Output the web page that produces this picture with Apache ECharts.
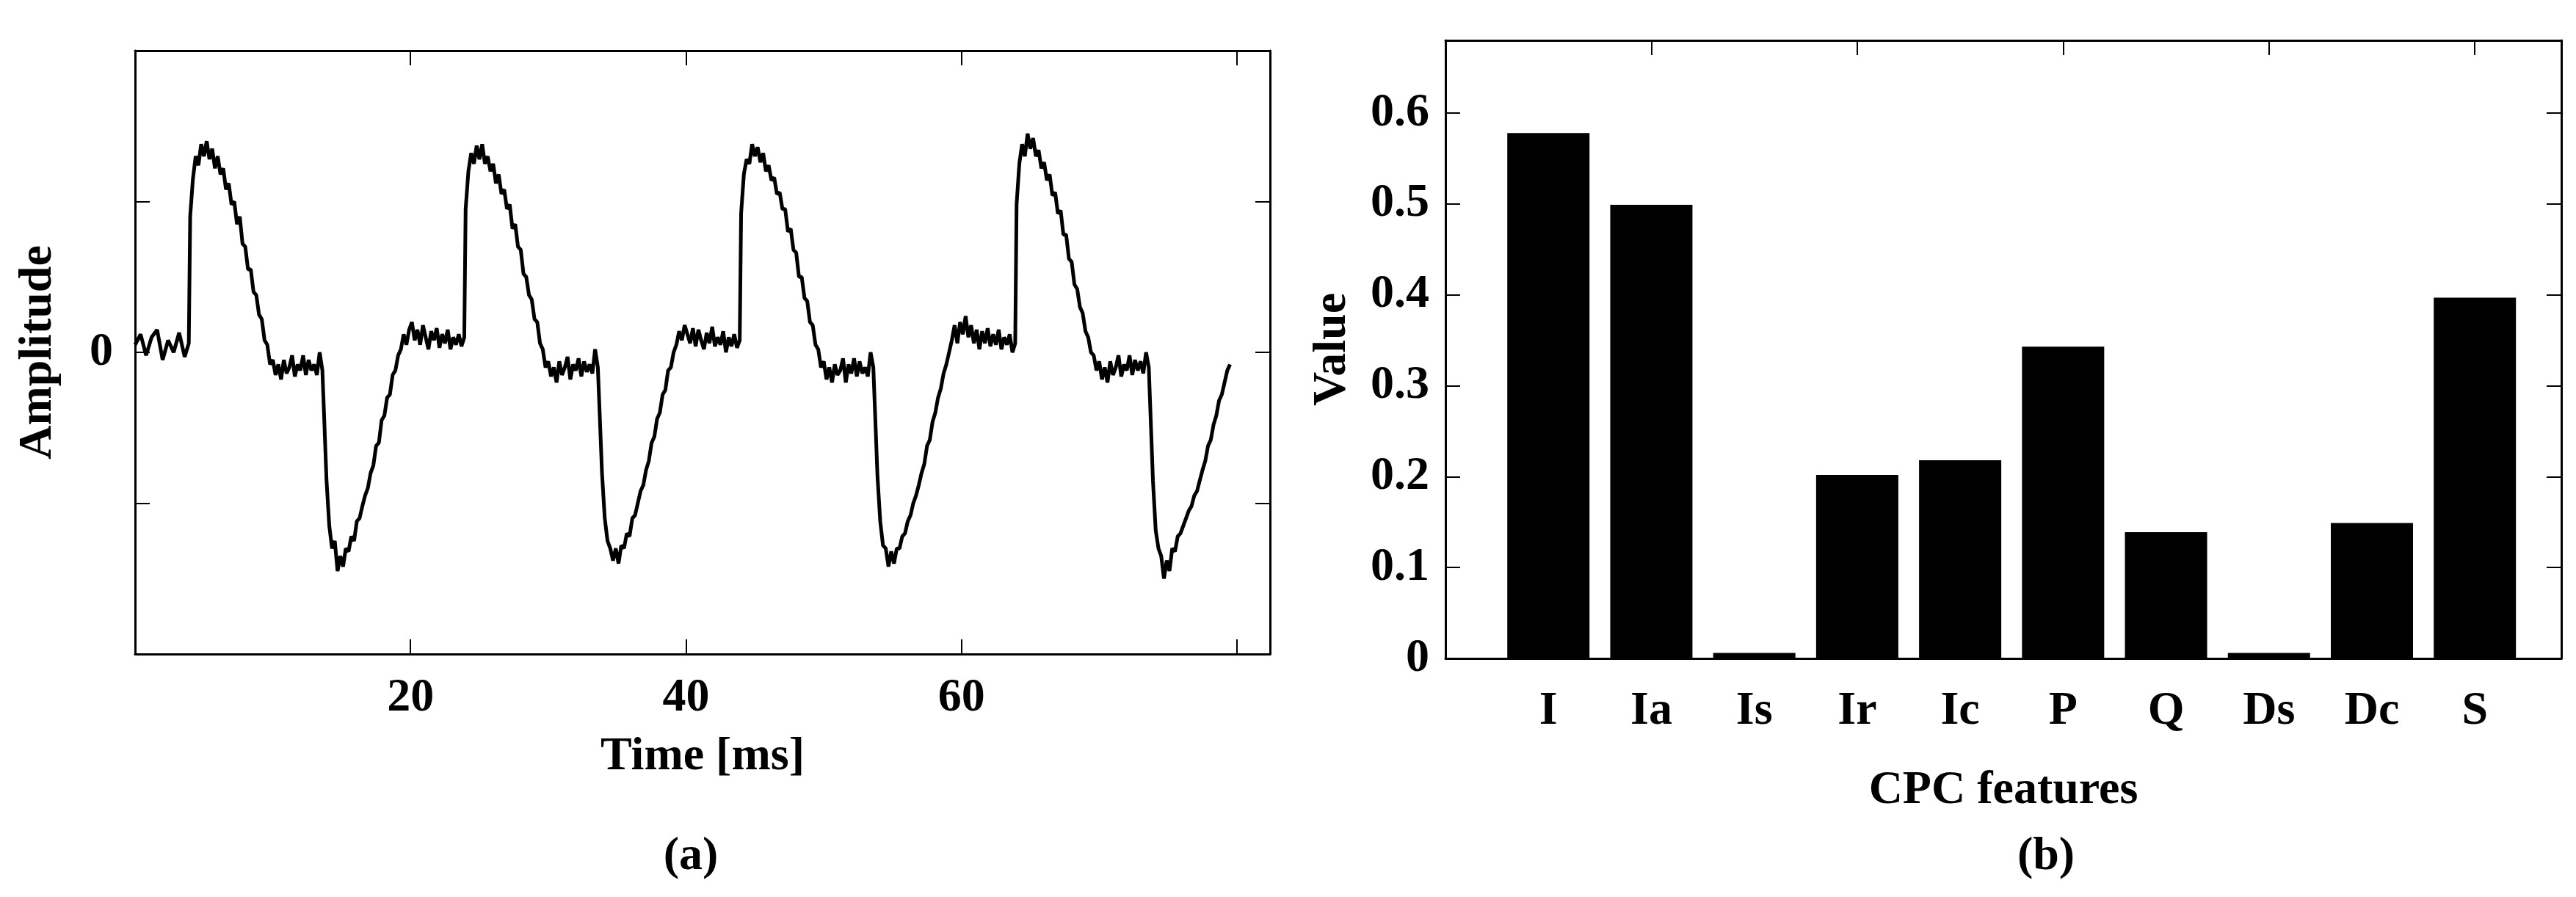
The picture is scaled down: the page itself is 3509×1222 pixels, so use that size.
<!DOCTYPE html>
<html>
<head>
<meta charset="utf-8">
<script src="https://cdn.jsdelivr.net/npm/echarts@6/dist/echarts.min.js"></script>
<style>html,body{margin:0;padding:0;background:#fff}#main{width:3509px;height:1222px}</style>
</head>
<body>
<div id="main"></div>
<script>
// panel (a): waveform
var preTimes = [0, 0.4, 0.8, 1.2, 1.6, 2.0, 2.4, 2.8, 3.2, 3.6, 3.9];
var preAmps  = [0.05, 0.12, -0.02, 0.1, 0.15, -0.05, 0.08, 0.0, 0.13, -0.03, 0.06];
// phase (ms after the step up) shared by the four cycles
var phase = [0.1, 0.3, 0.5, 0.7, 0.9, 1.1, 1.3, 1.5, 1.7, 1.9, 2.1, 2.3, 2.5, 2.7, 2.9, 3.1, 3.3, 3.5, 3.7, 3.9,
             4.1, 4.3, 4.5, 4.7, 4.9, 5.1, 5.3, 5.5, 5.7, 5.9, 6.1, 6.3, 6.5, 6.7, 6.9, 7.1, 7.3, 7.5, 7.7, 7.9, 8.1, 8.3, 8.5, 8.7, 8.9, 9.1, 9.3, 9.5, 9.7, 10.0,
             10.2, 10.4, 10.6, 10.8, 11.0, 11.2, 11.4, 11.6, 11.8, 12.0, 12.2, 12.4, 12.6, 12.8, 13.0, 13.2, 13.4, 13.6, 13.8, 14.0, 14.2, 14.4, 14.6, 14.8, 15.0,
             15.2, 15.4, 15.6, 15.8, 16.0, 16.2, 16.4, 16.6, 16.8, 17.0, 17.2, 17.4, 17.6, 17.8, 18.0, 18.2, 18.4, 18.6, 18.8, 19.0, 19.2, 19.4, 19.6, 19.8, 20.0];
var cycleStarts = [3.9, 23.9, 43.9, 63.9];
var cycle1 = [0.9, 1.15, 1.3, 1.24, 1.38, 1.3, 1.4, 1.28, 1.35, 1.22, 1.3, 1.18, 1.22, 1.08, 1.12, 0.98, 1.0, 0.85, 0.9, 0.72,
              0.7, 0.55, 0.55, 0.4, 0.38, 0.25, 0.22, 0.08, 0.05, -0.08, -0.05, -0.15, -0.08, -0.18, -0.05, -0.14, -0.1, -0.02, -0.16, -0.08, -0.12, -0.02, -0.15, -0.05, -0.12, -0.08, -0.15, 0.0, -0.12, -0.85,
              -1.15, -1.3, -1.25, -1.45, -1.35, -1.42, -1.3, -1.32, -1.22, -1.25, -1.12, -1.1, -1.02, -0.95, -0.9, -0.8, -0.75, -0.62, -0.6, -0.45, -0.42, -0.3, -0.28, -0.15, -0.12,
              -0.02, 0.02, 0.12, 0.05, 0.15, 0.2, 0.08, 0.15, 0.05, 0.18, 0.1, 0.02, 0.14, 0.08, 0.16, 0.03, 0.12, 0.06, 0.15, 0.02, 0.1, 0.05, 0.12, 0.04, 0.1];
var cycle2 = [0.95, 1.2, 1.32, 1.25, 1.37, 1.28, 1.38, 1.25, 1.3, 1.2, 1.25, 1.12, 1.18, 1.05, 1.08, 0.95, 0.98, 0.82, 0.85, 0.7,
              0.68, 0.52, 0.5, 0.38, 0.35, 0.22, 0.2, 0.06, 0.02, -0.1, -0.06, -0.16, -0.1, -0.2, -0.06, -0.15, -0.1, -0.03, -0.18, -0.08, -0.12, -0.04, -0.16, -0.06, -0.13, -0.08, -0.14, 0.02, -0.1, -0.8,
              -1.1, -1.25, -1.3, -1.38, -1.3, -1.4, -1.28, -1.3, -1.2, -1.22, -1.1, -1.08, -1.0, -0.92, -0.88, -0.78, -0.72, -0.6, -0.56, -0.44, -0.4, -0.28, -0.25, -0.12, -0.1,
              0.0, 0.05, 0.14, 0.08, 0.18, 0.12, 0.06, 0.16, 0.04, 0.15, 0.08, 0.02, 0.13, 0.06, 0.17, 0.04, 0.1, 0.05, 0.14, 0.0, 0.1, 0.04, 0.12, 0.03, 0.08];
var cycle3 = [0.92, 1.18, 1.28, 1.25, 1.38, 1.3, 1.36, 1.26, 1.32, 1.2, 1.24, 1.14, 1.16, 1.05, 1.06, 0.95, 0.95, 0.8, 0.82, 0.68,
              0.66, 0.5, 0.5, 0.36, 0.34, 0.2, 0.18, 0.05, 0.02, -0.1, -0.06, -0.18, -0.1, -0.2, -0.08, -0.15, -0.12, -0.04, -0.2, -0.08, -0.14, -0.04, -0.16, -0.06, -0.14, -0.1, -0.16, 0.0, -0.1, -0.82,
              -1.12, -1.28, -1.3, -1.42, -1.32, -1.4, -1.3, -1.3, -1.22, -1.2, -1.12, -1.08, -1.0, -0.95, -0.88, -0.8, -0.74, -0.62, -0.58, -0.46, -0.4, -0.3, -0.24, -0.14, -0.08,
              0.0, 0.08, 0.18, 0.06, 0.2, 0.12, 0.24, 0.1, 0.18, 0.06, 0.15, 0.02, 0.14, 0.06, 0.16, 0.04, 0.12, 0.05, 0.15, 0.02, 0.1, 0.05, 0.12, 0.0, 0.06];
var cycle4 = [0.98, 1.25, 1.38, 1.3, 1.45, 1.35, 1.42, 1.3, 1.34, 1.22, 1.26, 1.14, 1.18, 1.04, 1.06, 0.92, 0.94, 0.78, 0.78, 0.62,
              0.6, 0.45, 0.42, 0.3, 0.26, 0.14, 0.1, 0.0, -0.02, -0.12, -0.06, -0.18, -0.1, -0.2, -0.06, -0.15, -0.1, -0.02, -0.16, -0.08, -0.12, -0.02, -0.15, -0.05, -0.12, -0.06, -0.14, 0.0, -0.1, -0.85,
              -1.18, -1.3, -1.35, -1.5, -1.38, -1.45, -1.3, -1.32, -1.22, -1.2, -1.15, -1.1, -1.05, -1.02, -0.95, -0.92, -0.85, -0.78, -0.72, -0.62, -0.58, -0.48, -0.42, -0.32, -0.28,
              -0.2, -0.12, -0.08];
var timeTicks = [20, 40, 60];

// panel (b): CPC features
var features = ['I', 'Ia', 'Is', 'Ir', 'Ic', 'P', 'Q', 'Ds', 'Dc', 'S'];
var featureValues = [0.578, 0.499, 0.006, 0.202, 0.218, 0.343, 0.139, 0.006, 0.149, 0.397];

var cycles = [cycle1, cycle2, cycle3, cycle4];
var wave = [];
for (var i = 0; i < preTimes.length; i++) wave.push([preTimes[i], preAmps[i]]);
for (var c = 0; c < cycles.length; c++) {
    for (var j = 0; j < cycles[c].length; j++) {
        var t = cycleStarts[c] + phase[j];
        if (t <= 80.05) wave.push([t, cycles[c][j]]);
    }
}
var bars = [];
for (var k = 0; k < features.length; k++) bars.push([k + 1, featureValues[k]]);

var font = 'Liberation Serif';
var lab = { fontFamily: font, fontWeight: 'bold', fontSize: 64, color: '#000' };
var axLine = { show: true, onZero: false, lineStyle: { color: '#000', width: 3 } };
var tick = { show: true, inside: true, length: 20, lineStyle: { color: '#000', width: 2 } };

var chart = echarts.init(document.getElementById('main'));
chart.setOption({
    backgroundColor: '#fff',
    animation: false,
    title: [
        { text: '(a)', left: 936, top: 1130, textAlign: 'center', textStyle: lab },
        { text: '(b)', left: 2782, top: 1130, textAlign: 'center', textStyle: lab }
    ],
    grid: [
        { left: 184, top: 69, width: 1546, height: 822 },
        { left: 1969, top: 55, width: 1520, height: 842 }
    ],
    xAxis: [
        { type: 'value', gridIndex: 0, min: 0, max: 82.4, interval: 20, position: 'bottom',
          axisLine: axLine, axisTick: tick, splitLine: { show: false },
          axisLabel: Object.assign({ margin: 28, formatter: function (v) { return timeTicks.indexOf(v) >= 0 ? v : ''; } }, lab),
          name: 'Time [ms]', nameLocation: 'middle', nameGap: 108, nameTextStyle: lab },
        { type: 'value', gridIndex: 0, min: 0, max: 82.4, interval: 20, position: 'top',
          axisLine: axLine, axisTick: tick, axisLabel: { show: false }, splitLine: { show: false } },
        { type: 'value', gridIndex: 1, min: 0, max: 10.84, interval: 1, position: 'bottom',
          axisLine: axLine, axisTick: { show: false }, splitLine: { show: false },
          axisLabel: Object.assign({ margin: 40, formatter: function (v) { return features[v - 1] || ''; } }, lab),
          name: 'CPC features', nameLocation: 'middle', nameGap: 148, nameTextStyle: lab },
        { type: 'value', gridIndex: 1, min: 0, max: 10.84, interval: 2, position: 'top',
          axisLine: axLine, axisTick: tick, axisLabel: { show: false }, splitLine: { show: false } }
    ],
    yAxis: [
        { type: 'value', gridIndex: 0, min: -2, max: 2, interval: 1, position: 'left',
          axisLine: axLine, axisTick: tick, splitLine: { show: false },
          axisLabel: Object.assign({ margin: 30, formatter: function (v) { return v === 0 ? '0' : ''; } }, lab),
          name: 'Amplitude', nameLocation: 'middle', nameGap: 100, nameTextStyle: lab },
        { type: 'value', gridIndex: 0, min: -2, max: 2, interval: 1, position: 'right',
          axisLine: axLine, axisTick: tick, axisLabel: { show: false }, splitLine: { show: false } },
        { type: 'value', gridIndex: 1, min: 0, max: 0.68, interval: 0.1, position: 'left',
          axisLine: axLine, axisTick: tick, splitLine: { show: false },
          axisLabel: Object.assign({ margin: 22, showMaxLabel: false, formatter: function (v) { return v === 0 ? '0' : v.toFixed(1); } }, lab),
          name: 'Value', nameLocation: 'middle', nameGap: 122, nameTextStyle: lab },
        { type: 'value', gridIndex: 1, min: 0, max: 0.68, interval: 0.1, position: 'right',
          axisLine: axLine, axisTick: tick, axisLabel: { show: false }, splitLine: { show: false } }
    ],
    series: [
        { type: 'line', xAxisIndex: 0, yAxisIndex: 0, data: wave, symbol: 'none',
          lineStyle: { color: '#000', width: 5 } },
        { type: 'bar', xAxisIndex: 2, yAxisIndex: 2, data: bars, barWidth: 112,
          itemStyle: { color: '#000' } }
    ]
});
</script>
</body>
</html>
